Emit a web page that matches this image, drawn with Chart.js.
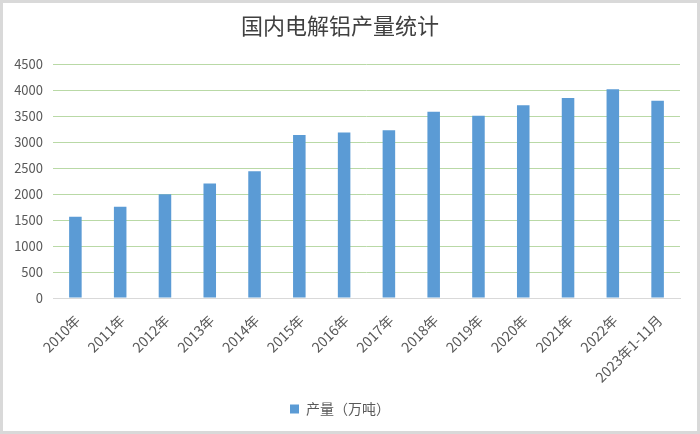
<!DOCTYPE html>
<html>
<head>
<meta charset="utf-8">
<script src="https://cdn.jsdelivr.net/npm/chart.js@4/dist/chart.umd.min.js"></script>
<style>
  html, body { margin: 0; padding: 0; background: #fff; }
  #wrap { width: 700px; height: 434px; }
</style>
</head>
<body>
<div id="wrap"><canvas id="myChart" width="700" height="434"></canvas></div>
<script>
// data
var years = ["2010年", "2011年", "2012年", "2013年", "2014年", "2015年", "2016年",
  "2017年", "2018年", "2019年", "2020年", "2021年", "2022年", "2023年1-11月"];
var output = [1565, 1760, 1998, 2205, 2440, 3141, 3187, 3232, 3588, 3510, 3712, 3855, 4021, 3801];
var seriesName = "产量（万吨）";
var chartTitle = "国内电解铝产量统计";

const fontFamily = "'Noto Sans CJK SC', 'Noto Sans', sans-serif";
const gridGreen = "#b9d9a6";
const axisGray = "#d9d9d9";
const labelGray = "#595959";

// white background + thin gray frame like the exported picture
const framePlugin = {
  id: "frame",
  beforeDraw: (chart) => {
    const ctx = chart.ctx;
    ctx.save();
    ctx.fillStyle = "#fff";
    ctx.fillRect(0, 0, chart.width, chart.height);
    ctx.strokeStyle = "#d9d9d9";
    ctx.lineWidth = 3;
    ctx.strokeRect(1.5, 1.5, chart.width - 3, chart.height - 3);
    ctx.restore();
  },
};

const config = {
  type: "bar",
  data: {
    labels: years,
    datasets: [
      {
        label: seriesName,
        data: output,
        backgroundColor: "#5b9bd5",
        borderWidth: 0,
        barPercentage: 0.28,
        categoryPercentage: 1,
      },
    ],
  },
  options: {
    responsive: false,
    animation: false,
    layout: {
      padding: { left: 0, right: 20, top: 0, bottom: 8 },
    },
    plugins: {
      title: {
        display: true,
        text: chartTitle,
        color: "#404040",
        font: { family: fontFamily, size: 22, weight: "normal" },
        padding: { top: 12, bottom: 26 },
      },
      legend: {
        position: "bottom",
        labels: {
          boxWidth: 9,
          boxHeight: 9,
          color: labelGray,
          font: { family: fontFamily, size: 14 },
        },
      },
      tooltip: { enabled: false },
    },
    scales: {
      x: {
        grid: { display: false },
        border: { display: true, color: axisGray },
        ticks: {
          color: labelGray,
          font: { family: fontFamily, size: 14 },
          minRotation: 45,
          maxRotation: 45,
          autoSkip: false,
          labelOffset: 2,
          padding: 6,
        },
        afterFit: (scale) => {
          scale.height = 94;
        },
      },
      y: {
        min: 0,
        max: 4500,
        border: { display: false },
        grid: {
          drawTicks: false,
          color: (ctx) => (ctx.tick && ctx.tick.value === 0 ? axisGray : gridGreen),
        },
        ticks: {
          stepSize: 500,
          padding: 10,
          color: labelGray,
          font: { family: fontFamily, size: 13 },
          callback: (value) => String(value),
        },
        afterFit: (scale) => {
          scale.width = 53;
        },
      },
    },
  },
  plugins: [framePlugin],
};

const myChart = new Chart(document.getElementById("myChart"), config);
</script>
</body>
</html>
